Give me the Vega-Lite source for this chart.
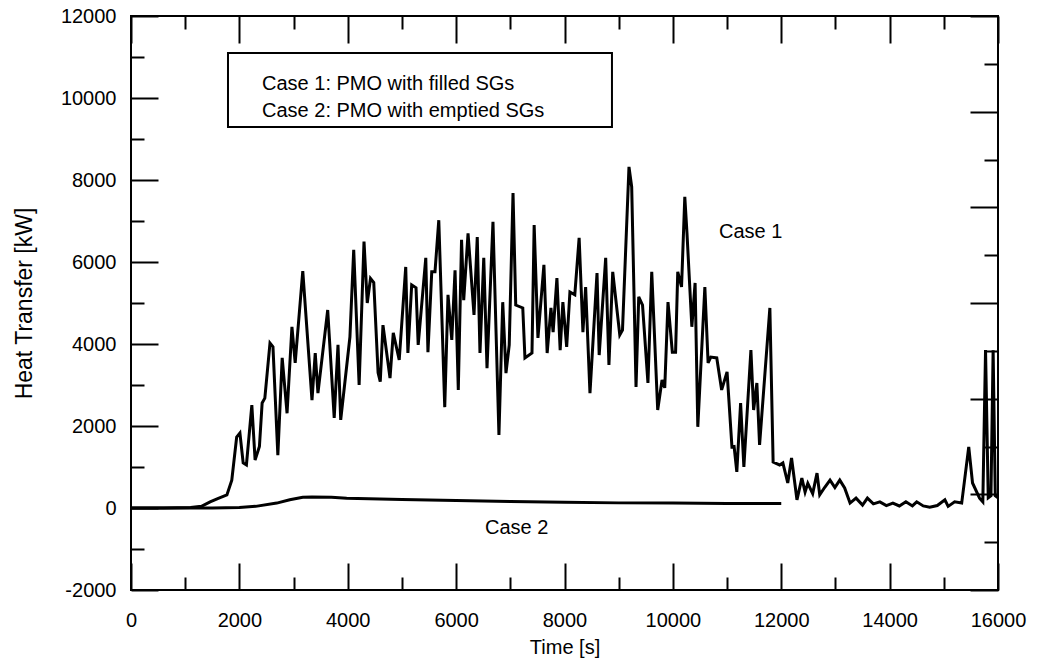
{
  "$schema": "https://vega.github.io/schema/vega-lite/v6.json",
  "width": 867,
  "height": 574,
  "autosize": {"type": "none"},
  "padding": {"left": 131, "top": 16, "right": 40, "bottom": 72},
  "background": "white",
  "config": {
    "view": {"stroke": "black", "strokeWidth": 2},
    "font": "Liberation Sans",
    "axis": {"domain": false, "grid": false, "tickColor": "black", "tickWidth": 2, "labelColor": "black", "titleColor": "black"}
  },
  "datasets": {
    "series": [
      {"case": "Case 1", "t": 0, "q": 0},
      {"case": "Case 1", "t": 600, "q": 0},
      {"case": "Case 1", "t": 1100, "q": 10},
      {"case": "Case 1", "t": 1300, "q": 40},
      {"case": "Case 1", "t": 1460, "q": 150},
      {"case": "Case 1", "t": 1600, "q": 230},
      {"case": "Case 1", "t": 1770, "q": 320},
      {"case": "Case 1", "t": 1860, "q": 680},
      {"case": "Case 1", "t": 1950, "q": 1730},
      {"case": "Case 1", "t": 2010, "q": 1830},
      {"case": "Case 1", "t": 2070, "q": 1100},
      {"case": "Case 1", "t": 2130, "q": 1050},
      {"case": "Case 1", "t": 2230, "q": 2510},
      {"case": "Case 1", "t": 2290, "q": 1170},
      {"case": "Case 1", "t": 2370, "q": 1500},
      {"case": "Case 1", "t": 2420, "q": 2560},
      {"case": "Case 1", "t": 2470, "q": 2680},
      {"case": "Case 1", "t": 2565, "q": 4020},
      {"case": "Case 1", "t": 2620, "q": 3930},
      {"case": "Case 1", "t": 2710, "q": 1290},
      {"case": "Case 1", "t": 2790, "q": 3660},
      {"case": "Case 1", "t": 2880, "q": 2310},
      {"case": "Case 1", "t": 2970, "q": 4420},
      {"case": "Case 1", "t": 3030, "q": 3540},
      {"case": "Case 1", "t": 3170, "q": 5780},
      {"case": "Case 1", "t": 3340, "q": 2630},
      {"case": "Case 1", "t": 3400, "q": 3780},
      {"case": "Case 1", "t": 3450, "q": 2800},
      {"case": "Case 1", "t": 3630, "q": 4830},
      {"case": "Case 1", "t": 3750, "q": 2200},
      {"case": "Case 1", "t": 3820, "q": 3980},
      {"case": "Case 1", "t": 3870, "q": 2150},
      {"case": "Case 1", "t": 4040, "q": 4170},
      {"case": "Case 1", "t": 4110, "q": 6300},
      {"case": "Case 1", "t": 4210, "q": 3000},
      {"case": "Case 1", "t": 4300, "q": 6500},
      {"case": "Case 1", "t": 4360, "q": 5000},
      {"case": "Case 1", "t": 4420, "q": 5600},
      {"case": "Case 1", "t": 4480, "q": 5500},
      {"case": "Case 1", "t": 4560, "q": 3300},
      {"case": "Case 1", "t": 4600, "q": 3080},
      {"case": "Case 1", "t": 4650, "q": 4460},
      {"case": "Case 1", "t": 4780, "q": 3170},
      {"case": "Case 1", "t": 4840, "q": 4270},
      {"case": "Case 1", "t": 4950, "q": 3610},
      {"case": "Case 1", "t": 5070, "q": 5880},
      {"case": "Case 1", "t": 5110, "q": 3780},
      {"case": "Case 1", "t": 5180, "q": 5440},
      {"case": "Case 1", "t": 5260, "q": 5370},
      {"case": "Case 1", "t": 5300, "q": 3980},
      {"case": "Case 1", "t": 5440, "q": 6100},
      {"case": "Case 1", "t": 5480, "q": 3800},
      {"case": "Case 1", "t": 5550, "q": 5760},
      {"case": "Case 1", "t": 5610, "q": 5760},
      {"case": "Case 1", "t": 5680, "q": 7020},
      {"case": "Case 1", "t": 5790, "q": 2460},
      {"case": "Case 1", "t": 5850, "q": 5200},
      {"case": "Case 1", "t": 5920, "q": 4100},
      {"case": "Case 1", "t": 5980, "q": 5800},
      {"case": "Case 1", "t": 6040, "q": 2880},
      {"case": "Case 1", "t": 6100, "q": 6540},
      {"case": "Case 1", "t": 6140, "q": 5070},
      {"case": "Case 1", "t": 6220, "q": 6700},
      {"case": "Case 1", "t": 6330, "q": 4710},
      {"case": "Case 1", "t": 6390, "q": 6610},
      {"case": "Case 1", "t": 6440, "q": 3780},
      {"case": "Case 1", "t": 6510, "q": 6100},
      {"case": "Case 1", "t": 6570, "q": 3410},
      {"case": "Case 1", "t": 6680, "q": 6980},
      {"case": "Case 1", "t": 6790, "q": 1780},
      {"case": "Case 1", "t": 6860, "q": 5020},
      {"case": "Case 1", "t": 6920, "q": 3290},
      {"case": "Case 1", "t": 6980, "q": 3980},
      {"case": "Case 1", "t": 7050, "q": 7680},
      {"case": "Case 1", "t": 7100, "q": 4950},
      {"case": "Case 1", "t": 7230, "q": 4880},
      {"case": "Case 1", "t": 7270, "q": 3660},
      {"case": "Case 1", "t": 7400, "q": 3780},
      {"case": "Case 1", "t": 7440, "q": 6900},
      {"case": "Case 1", "t": 7510, "q": 4150},
      {"case": "Case 1", "t": 7620, "q": 5930},
      {"case": "Case 1", "t": 7680, "q": 3780},
      {"case": "Case 1", "t": 7750, "q": 4880},
      {"case": "Case 1", "t": 7790, "q": 4290},
      {"case": "Case 1", "t": 7860, "q": 5610},
      {"case": "Case 1", "t": 7920, "q": 3850},
      {"case": "Case 1", "t": 7970, "q": 5020},
      {"case": "Case 1", "t": 8040, "q": 3930},
      {"case": "Case 1", "t": 8100, "q": 5270},
      {"case": "Case 1", "t": 8190, "q": 5200},
      {"case": "Case 1", "t": 8270, "q": 6590},
      {"case": "Case 1", "t": 8340, "q": 4290},
      {"case": "Case 1", "t": 8390, "q": 5390},
      {"case": "Case 1", "t": 8470, "q": 2800},
      {"case": "Case 1", "t": 8600, "q": 5730},
      {"case": "Case 1", "t": 8640, "q": 3730},
      {"case": "Case 1", "t": 8760, "q": 6100},
      {"case": "Case 1", "t": 8820, "q": 3490},
      {"case": "Case 1", "t": 8890, "q": 5760},
      {"case": "Case 1", "t": 9020, "q": 4220},
      {"case": "Case 1", "t": 9070, "q": 4340},
      {"case": "Case 1", "t": 9190, "q": 8320},
      {"case": "Case 1", "t": 9240, "q": 7830},
      {"case": "Case 1", "t": 9320, "q": 2950},
      {"case": "Case 1", "t": 9370, "q": 5150},
      {"case": "Case 1", "t": 9440, "q": 4950},
      {"case": "Case 1", "t": 9540, "q": 3050},
      {"case": "Case 1", "t": 9610, "q": 5760},
      {"case": "Case 1", "t": 9720, "q": 2390},
      {"case": "Case 1", "t": 9800, "q": 3120},
      {"case": "Case 1", "t": 9850, "q": 2930},
      {"case": "Case 1", "t": 9910, "q": 5020},
      {"case": "Case 1", "t": 9990, "q": 3800},
      {"case": "Case 1", "t": 10050, "q": 3800},
      {"case": "Case 1", "t": 10090, "q": 5760},
      {"case": "Case 1", "t": 10160, "q": 5390},
      {"case": "Case 1", "t": 10220, "q": 7590},
      {"case": "Case 1", "t": 10260, "q": 6710},
      {"case": "Case 1", "t": 10350, "q": 4420},
      {"case": "Case 1", "t": 10410, "q": 5490},
      {"case": "Case 1", "t": 10460, "q": 1980},
      {"case": "Case 1", "t": 10590, "q": 5390},
      {"case": "Case 1", "t": 10650, "q": 3540},
      {"case": "Case 1", "t": 10700, "q": 3680},
      {"case": "Case 1", "t": 10810, "q": 3660},
      {"case": "Case 1", "t": 10900, "q": 2880},
      {"case": "Case 1", "t": 11000, "q": 3320},
      {"case": "Case 1", "t": 11090, "q": 1490},
      {"case": "Case 1", "t": 11130, "q": 1500},
      {"case": "Case 1", "t": 11180, "q": 880},
      {"case": "Case 1", "t": 11250, "q": 2560},
      {"case": "Case 1", "t": 11310, "q": 1000},
      {"case": "Case 1", "t": 11440, "q": 3850},
      {"case": "Case 1", "t": 11490, "q": 2390},
      {"case": "Case 1", "t": 11550, "q": 3050},
      {"case": "Case 1", "t": 11600, "q": 1540},
      {"case": "Case 1", "t": 11790, "q": 4880},
      {"case": "Case 1", "t": 11850, "q": 1120},
      {"case": "Case 1", "t": 11970, "q": 1050},
      {"case": "Case 1", "t": 12030, "q": 1100},
      {"case": "Case 1", "t": 12120, "q": 610},
      {"case": "Case 1", "t": 12190, "q": 1220},
      {"case": "Case 1", "t": 12290, "q": 200},
      {"case": "Case 1", "t": 12380, "q": 730},
      {"case": "Case 1", "t": 12440, "q": 390},
      {"case": "Case 1", "t": 12490, "q": 600},
      {"case": "Case 1", "t": 12580, "q": 350},
      {"case": "Case 1", "t": 12660, "q": 850},
      {"case": "Case 1", "t": 12710, "q": 320},
      {"case": "Case 1", "t": 12800, "q": 500},
      {"case": "Case 1", "t": 12900, "q": 680},
      {"case": "Case 1", "t": 12990, "q": 500},
      {"case": "Case 1", "t": 13080, "q": 680},
      {"case": "Case 1", "t": 13170, "q": 490},
      {"case": "Case 1", "t": 13270, "q": 120},
      {"case": "Case 1", "t": 13380, "q": 240},
      {"case": "Case 1", "t": 13500, "q": 70},
      {"case": "Case 1", "t": 13590, "q": 240},
      {"case": "Case 1", "t": 13700, "q": 100},
      {"case": "Case 1", "t": 13820, "q": 150},
      {"case": "Case 1", "t": 13940, "q": 60},
      {"case": "Case 1", "t": 14060, "q": 120},
      {"case": "Case 1", "t": 14180, "q": 50},
      {"case": "Case 1", "t": 14300, "q": 150},
      {"case": "Case 1", "t": 14420, "q": 50},
      {"case": "Case 1", "t": 14500, "q": 150},
      {"case": "Case 1", "t": 14620, "q": 50},
      {"case": "Case 1", "t": 14740, "q": 20},
      {"case": "Case 1", "t": 14880, "q": 60},
      {"case": "Case 1", "t": 15020, "q": 200},
      {"case": "Case 1", "t": 15080, "q": 40},
      {"case": "Case 1", "t": 15200, "q": 150},
      {"case": "Case 1", "t": 15330, "q": 120},
      {"case": "Case 1", "t": 15460, "q": 1490},
      {"case": "Case 1", "t": 15530, "q": 610},
      {"case": "Case 1", "t": 15660, "q": 240},
      {"case": "Case 1", "t": 15720, "q": 150},
      {"case": "Case 1", "t": 15770, "q": 3850},
      {"case": "Case 1", "t": 15820, "q": 250},
      {"case": "Case 1", "t": 15870, "q": 300},
      {"case": "Case 1", "t": 15910, "q": 3850},
      {"case": "Case 1", "t": 15950, "q": 300},
      {"case": "Case 1", "t": 16000, "q": 250},
      {"case": "Case 2", "t": 0, "q": 0},
      {"case": "Case 2", "t": 1500, "q": 0},
      {"case": "Case 2", "t": 2000, "q": 10},
      {"case": "Case 2", "t": 2300, "q": 40},
      {"case": "Case 2", "t": 2690, "q": 120},
      {"case": "Case 2", "t": 2930, "q": 200},
      {"case": "Case 2", "t": 3170, "q": 260},
      {"case": "Case 2", "t": 3340, "q": 270},
      {"case": "Case 2", "t": 3700, "q": 260},
      {"case": "Case 2", "t": 3980, "q": 240},
      {"case": "Case 2", "t": 5000, "q": 210},
      {"case": "Case 2", "t": 6000, "q": 180},
      {"case": "Case 2", "t": 7000, "q": 160},
      {"case": "Case 2", "t": 8000, "q": 140},
      {"case": "Case 2", "t": 9000, "q": 125},
      {"case": "Case 2", "t": 10000, "q": 120},
      {"case": "Case 2", "t": 11000, "q": 110},
      {"case": "Case 2", "t": 12000, "q": 110}
    ],
    "box": [{"x1": 1790, "x2": 8876, "y1": 11098, "y2": 9293}],
    "notes": [
      {"label": "Case 1: PMO with filled SGs", "tx": 2418, "ty": 10195},
      {"label": "Case 2: PMO with emptied SGs", "tx": 2418, "ty": 9537},
      {"label": "Case 1", "tx": 10851, "ty": 6585},
      {"label": "Case 2", "tx": 6533, "ty": -634}
    ],
    "dummy": [{"a": 0, "b": 0}]
  },
  "layer": [
    {
      "data": {"name": "series"},
      "mark": {"type": "line", "color": "black", "strokeWidth": 3, "strokeJoin": "miter", "clip": true},
      "encoding": {
        "x": {
          "field": "t", "type": "quantitative",
          "scale": {"domain": [0, 16000], "nice": false, "zero": false},
          "axis": {
            "orient": "bottom",
            "values": [0, 2000, 4000, 6000, 8000, 10000, 12000, 14000, 16000],
            "labelExpr": "'' + datum.value",
            "tickSize": -27,
            "labelFont": "Liberation Sans", "labelFontSize": 20,
            "labelPadding": 47, "labelOverlap": false, "labelFlush": false,
            "title": "Time [s]", "titleFont": "Liberation Sans", "titleFontSize": 20,
            "titleFontWeight": "normal", "titlePadding": 7
          }
        },
        "y": {
          "field": "q", "type": "quantitative",
          "scale": {"domain": [-2000, 12000], "nice": false, "zero": false},
          "axis": {
            "orient": "left",
            "values": [-2000, 0, 2000, 4000, 6000, 8000, 10000, 12000],
            "labelExpr": "datum.value < 0 ? '-' + abs(datum.value) : '' + datum.value",
            "tickSize": -27,
            "labelFont": "Liberation Sans", "labelFontSize": 20,
            "labelPadding": 42, "labelOverlap": false, "labelFlush": false,
            "title": "Heat Transfer [kW]", "titleFont": "Liberation Sans", "titleFontSize": 23,
            "titleFontWeight": "normal", "titlePadding": 24
          }
        },
        "detail": {"field": "case", "type": "nominal"}
      }
    },
    {
      "data": {"name": "box"},
      "mark": {"type": "rect", "filled": false, "stroke": "black", "strokeWidth": 2},
      "encoding": {
        "x": {
          "field": "x1", "type": "quantitative",
          "scale": {"domain": [0, 16000], "nice": false, "zero": false},
          "axis": {"orient": "bottom", "values": [1000, 3000, 5000, 7000, 9000, 11000, 13000, 15000], "labels": false, "title": null, "tickSize": -13}
        },
        "x2": {"field": "x2"},
        "y": {
          "field": "y1", "type": "quantitative",
          "scale": {"domain": [-2000, 12000], "nice": false, "zero": false},
          "axis": {"orient": "left", "values": [-1000, 1000, 3000, 5000, 7000, 9000, 11000], "labels": false, "title": null, "tickSize": -13}
        },
        "y2": {"field": "y2"}
      }
    },
    {
      "data": {"name": "notes"},
      "mark": {"type": "text", "align": "left", "baseline": "alphabetic", "font": "Liberation Sans", "fontSize": 20, "color": "black"},
      "encoding": {
        "x": {
          "field": "tx", "type": "quantitative",
          "scale": {"domain": [0, 16000], "nice": false, "zero": false},
          "axis": {"orient": "top", "values": [0, 2000, 4000, 6000, 8000, 10000, 12000, 14000, 16000], "labels": false, "title": null, "tickSize": -27}
        },
        "y": {
          "field": "ty", "type": "quantitative",
          "scale": {"domain": [-2000, 12000], "nice": false, "zero": false},
          "axis": {"orient": "right", "values": [-2000, 333.33, 2666.67, 5000, 7333.33, 9666.67, 12000], "labels": false, "title": null, "tickSize": -28}
        },
        "text": {"field": "label", "type": "nominal"}
      }
    },
    {
      "data": {"name": "dummy"},
      "mark": {"type": "point", "opacity": 0},
      "encoding": {
        "x": {
          "field": "a", "type": "quantitative",
          "scale": {"domain": [0, 16000], "nice": false, "zero": false},
          "axis": {"orient": "top", "values": [1000, 3000, 5000, 7000, 9000, 11000, 13000, 15000], "labels": false, "title": null, "tickSize": -13}
        },
        "y": {
          "field": "b", "type": "quantitative",
          "scale": {"domain": [-2000, 12000], "nice": false, "zero": false},
          "axis": {"orient": "right", "values": [-833.33, 1500, 3833.33, 6166.67, 8500, 10833.33], "labels": false, "title": null, "tickSize": -14}
        }
      }
    }
  ],
  "resolve": {"axis": {"x": "independent", "y": "independent"}}
}
